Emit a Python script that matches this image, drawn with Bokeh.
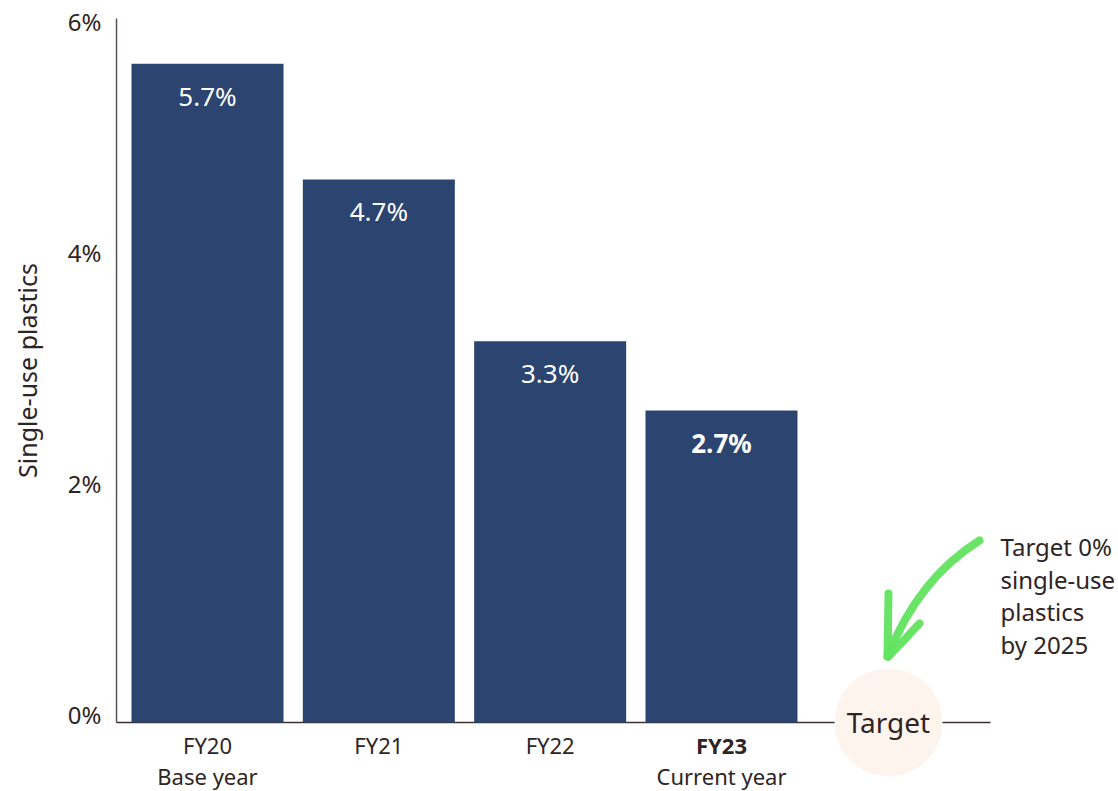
import math
from bokeh.plotting import figure
from bokeh.models import Range1d, ColumnDataSource
from bokeh.core.properties import value
from bokeh.embed import file_html
from bokeh.resources import INLINE

# ---------------- data ----------------
years = ["FY20", "FY21", "FY22", "FY23"]
subtitles = ["Base year", "", "", "Current year"]
share = [5.7, 4.7, 3.3, 2.7]
value_labels = ["5.7%", "4.7%", "3.3%", "2.7%"]
year_styles = ["normal", "normal", "normal", "bold"]
y_ticks = [0, 2, 4, 6]
y_tick_labels = ["0%", "2%", "4%", "6%"]
y_title = "Single-use plastics"
target_label = "Target"
target_note = ["Target 0%", "single-use", "plastics", "by 2025"]

# ---------------- layout helpers (canvas pixels -> data) ----------------
W, H = 1118, 791
PX_X = 171.33   # pixels per category step
PX_Y = 115.55   # pixels per percentage point
X0, Y0 = 207.0, 722.0   # canvas pixel of x=0 / y=0


def dx(px):
    return (px - X0) / PX_X


def dy(py):
    return (Y0 - py) / PX_Y


FONT = value("Noto Sans")
TXT = "#2e2424"
BAR = "#2b4470"

p = figure(width=W, height=H,
           x_range=Range1d(dx(0), dx(W)),
           y_range=Range1d(dy(H), dy(0)),
           output_backend="svg", toolbar_location=None,
           x_axis_location=None, y_axis_location=None,
           min_border_left=0, min_border_right=0,
           min_border_top=0, min_border_bottom=0,
           outline_line_color=None, background_fill_color="white",
           border_fill_color="white")
p.xgrid.visible = False
p.ygrid.visible = False

xs = list(range(len(years)))
src = ColumnDataSource(dict(x=xs, share=share, lab=value_labels, yr=years,
                            sub=subtitles, style=year_styles,
                            zero=[0] * len(years)))

# y axis: line + tick labels
p.segment(x0=[dx(116)], y0=[0], x1=[dx(116)], y1=[dy(18)],
          line_color="#5c5252", line_width=1.5)
p.text(x=[dx(101)] * len(y_ticks), y=y_ticks, text=y_tick_labels,
       y_offset=-8, text_align="right", text_baseline="middle",
       text_color=TXT, text_font=FONT, text_font_size="24px")

# baseline
p.segment(x0=[dx(116)], y0=[0], x1=[dx(990)], y1=[0],
          line_color="#3b3030", line_width=1.5)

# bars
p.vbar(x="x", top="share", bottom=0, width=152 / PX_X, source=src,
       fill_color=BAR, line_color=None)

# value labels
p.text(x="x", y="share", text="lab", source=src, y_offset=32,
       text_align="center", text_baseline="middle", text_color="white",
       text_font=FONT, text_font_size="26px", text_font_style="style")

# category labels
p.text(x="x", y="zero", text="yr", source=src, y_offset=22,
       text_align="center", text_baseline="middle", text_color=TXT,
       text_font=FONT, text_font_size="22px", text_font_style="style")
p.text(x="x", y="zero", text="sub", source=src, y_offset=53,
       text_align="center", text_baseline="middle", text_color=TXT,
       text_font=FONT, text_font_size="22px")

# target bubble
tx = dx(888)
p.scatter(x=[tx], y=[0], size=108, marker="circle",
          fill_color="#fef4ee", line_color=None)
p.text(x=[tx], y=[0], text=[target_label], y_offset=-1,
       text_align="center", text_baseline="middle", text_color=TXT,
       text_font=FONT, text_font_size="28px")

# green hand-drawn arrow
GREEN = "#62e35f"
p.quadratic(x0=[dx(979)], y0=[dy(540)], x1=[dx(887)], y1=[dy(656)],
            cx=[dx(918)], cy=[dy(578)], line_color=GREEN, line_width=8,
            line_cap="round", line_alpha=0.95)
p.segment(x0=[dx(888), dx(919)], y0=[dy(593), dy(623)],
          x1=[dx(887), dx(888)], y1=[dy(656), dy(656)],
          line_color=GREEN, line_width=8, line_cap="round", line_alpha=0.95)

# note text
p.text(x=[dx(1000)] * 4, y=[dy(546), dy(578.5), dy(611), dy(643.5)],
       text=target_note, text_align="left", text_baseline="alphabetic",
       text_color=TXT, text_font=FONT, text_font_size="24px")

# y title
p.text(x=[dx(26)], y=[dy(370)], text=[y_title], angle=math.pi / 2,
       text_align="center", text_baseline="middle", text_color=TXT,
       text_font=FONT, text_font_size="25px")

open("out.html", "w").write(file_html(p, INLINE))
